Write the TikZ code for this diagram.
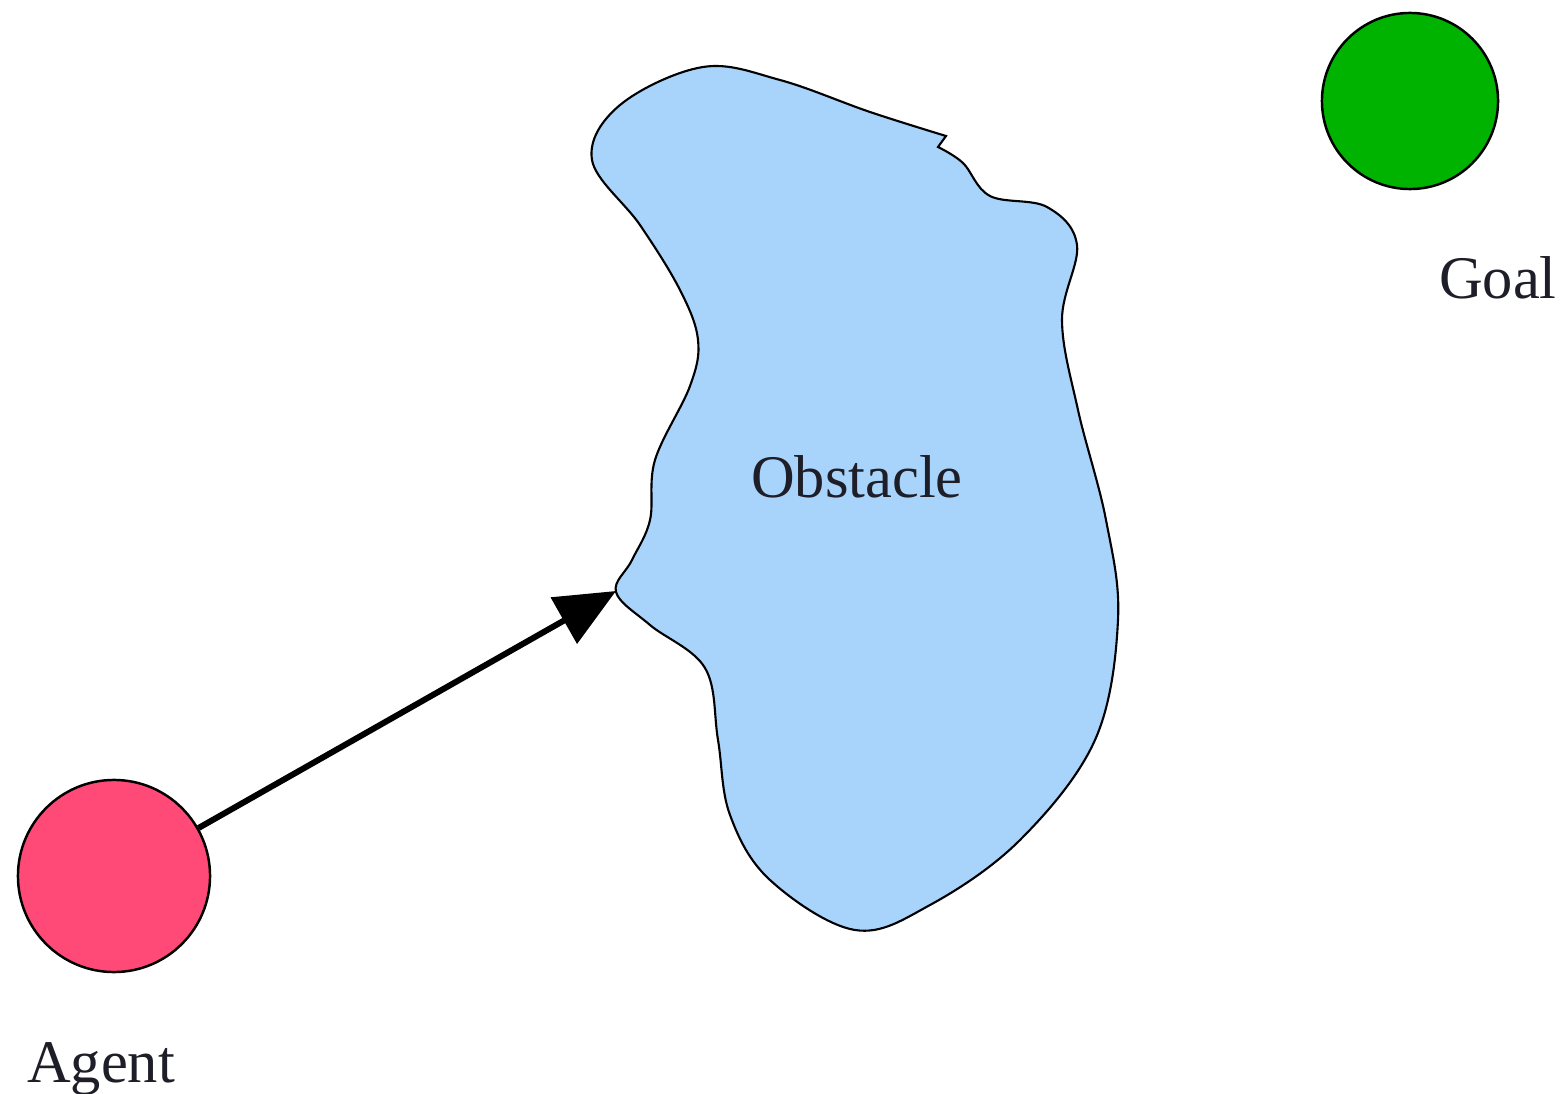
\documentclass[tikz,border=0pt]{standalone}
\usepackage{fontspec}
\setmainfont{Liberation Serif}
\usepackage{tikz}
\usetikzlibrary{arrows.meta,positioning}
\usepackage{xcolor}
\definecolor{AgentRed}{HTML}{FF4A77}
\definecolor{GoalGreen}{HTML}{00B300}
\definecolor{ObstBlue}{HTML}{A8D4FC}
\definecolor{LblInk}{HTML}{1E1E28}
\begin{document}
\begin{tikzpicture}[x=0.01cm,y=-0.01cm,every node/.style={font=\fontsize{17.2}{20}\selectfont,text=LblInk},
    ball/.style={draw,circle,line width=0.7pt,inner sep=0pt}]
    \useasboundingbox (0,0) rectangle (1566,1094);
    % obstacle outline
    \draw[fill=ObstBlue,line width=0.6pt] plot[smooth,tension=0.6] coordinates {(938,147) (963,163) (990,196) (1047,207) (1077,245) (1062,320) (1078,410) (1106,520) (1118,620) (1095,740) (1020,840) (930,905) (855,930) (770,880) (730,815) (718,740) (705,668) (650,625) (616,592) (632,560) (650,520) (655,460) (690,386) (698,340) (680,290) (640,225) (592,160) (620,105) (703,67) (780,80) (870,112) (946,136)} -- cycle;
    \node (obstacle) at (857,477) {Obstacle};
    \coordinate (hit) at (616,591);
    \node[ball,fill=GoalGreen,minimum size=1.76cm] (goal) at (1410,101) {};
    \node[ball,fill=AgentRed,minimum size=1.92cm] (agent) at (114,876) {};
    \node[anchor=base] (goallbl) at (1498,298) {Goal};
    \node[anchor=base] (agentlbl) at (101,1082) {Agent};
    \draw[-{Triangle[length=6mm,width=5.2mm]},line width=1.7pt] (agent) -- (hit);
  \end{tikzpicture}
\end{document}
